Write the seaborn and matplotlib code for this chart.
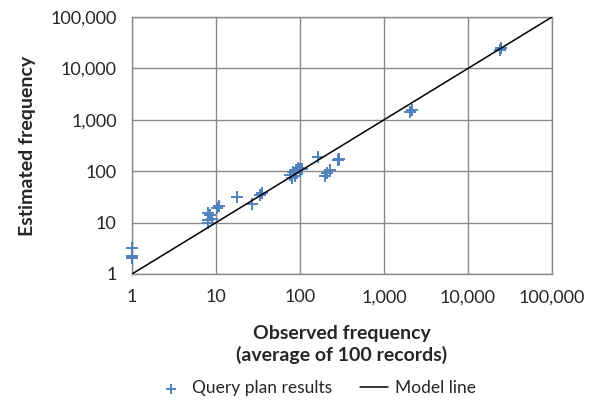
import matplotlib
matplotlib.use("Agg")
import matplotlib.pyplot as plt
import matplotlib.ticker as mticker
import seaborn as sns
import pandas as pd

# Data
observed = [1, 1, 1, 1,
            8.0, 8.0, 8.0, 8.5, 9.0,
            10.2, 10.9, 18, 27, 33, 35,
            76, 83, 90, 95, 100, 105, 88, 80,
            163, 210, 225, 198, 280, 290,
            2040, 2150, 24000, 25000]
estimated = [3.2, 2.05, 2.25, 2.1,
             15.3, 11.2, 9.8, 14, 12,
             19, 21, 31.5, 23, 34, 38,
             85, 96, 106, 115, 110, 112, 81, 74,
             190, 93, 105, 80, 165, 175,
             1410, 1540, 23000, 24500]
model_x = [1, 100000]
model_y = [1, 100000]
ticks = [1, 10, 100, 1000, 10000, 100000]

sns.set_style("white")
plt.rcParams['font.family'] = ['Lato', 'DejaVu Sans']

fig = plt.figure(figsize=(5.92, 4.07), dpi=100)
ax = fig.add_axes([132/592, 1-274/407, (552-132)/592, (274-17)/407])

pts = pd.DataFrame({"Observed": observed, "Estimated": estimated})
line = pd.DataFrame({"x": model_x, "y": model_y})

sns.scatterplot(data=pts, x="Observed", y="Estimated", marker="+", s=80,
                linewidth=1.4, color="#4F81BD", ax=ax, label="Query plan results",
                zorder=3, clip_on=False)
sns.lineplot(data=line, x="x", y="y", color="black", linewidth=1.1, ax=ax,
             label="Model line", zorder=4)

ax.set_xscale("log")
ax.set_yscale("log")
ax.set_xlim(1, 100000)
ax.set_ylim(1, 100000)
ax.set_xticks(ticks)
ax.set_yticks(ticks)
fmt = mticker.FuncFormatter(lambda v, p: f"{int(round(v)):,}")
ax.xaxis.set_major_formatter(fmt)
ax.yaxis.set_major_formatter(fmt)
ax.xaxis.set_minor_locator(mticker.NullLocator())
ax.yaxis.set_minor_locator(mticker.NullLocator())
ax.grid(True, color="#8a8a8a", linewidth=1.0)
for s in ax.spines.values():
    s.set_color("#8a8a8a")
    s.set_linewidth(1.0)
ax.tick_params(axis="both", direction="out", length=5, color="#8a8a8a",
               labelsize=13, pad=6)

ax.set_xlabel("Observed frequency\n(average of 100 records)", fontsize=14,
              fontweight="bold", labelpad=14, linespacing=1.3)
ax.set_ylabel("Estimated frequency", fontsize=14, fontweight="bold", labelpad=10)

h, l = ax.get_legend_handles_labels()
ax.get_legend().remove()
fig.legend(h, l, loc="lower center", bbox_to_anchor=(0.535, -0.012), ncol=2,
           frameon=False, fontsize=12.5, handlelength=1.6, columnspacing=1.6,
           handletextpad=0.4, markerscale=0.8)

fig.savefig("out.png", dpi=100)
